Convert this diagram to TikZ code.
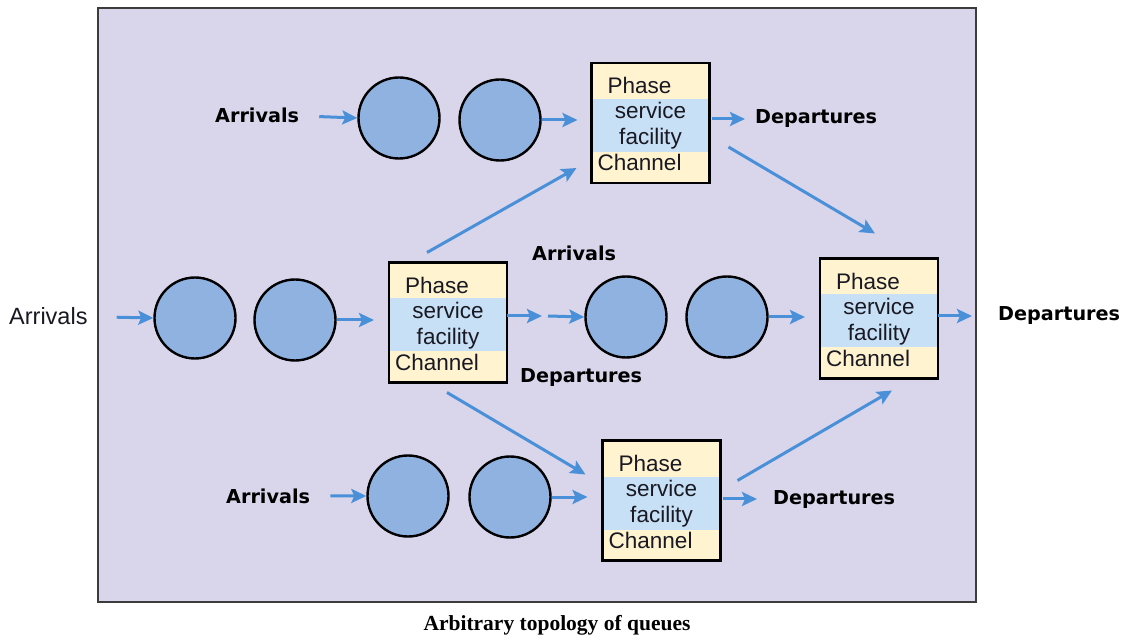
\documentclass[tikz,border=0pt]{standalone}
\usepackage{fontspec}
\setmainfont{Liberation Sans}
\newfontfamily\lblfont{DejaVu Sans}
\newfontfamily\capfont{Liberation Serif}
\usetikzlibrary{arrows.meta,calc}
\definecolor{bgc}{RGB}{217,214,235}
\definecolor{bordc}{RGB}{60,60,60}
\definecolor{cblue}{RGB}{143,178,224}
\definecolor{ablue}{RGB}{74,144,217}
\definecolor{byellow}{RGB}{255,243,208}
\definecolor{bblue}{RGB}{200,224,245}
\definecolor{txtc}{RGB}{25,25,35}
\newcommand\qbox[2]{%
  \node[qb] (#1) at (#2) {};
  \node[qt, anchor=base west] (#1-1) at ($(#1.north west)+(16,31)$) {Phase};
  \node[qt, anchor=base] (#1-2) at ($(#1.north)+(0,56)$) {service};
  \node[qt, anchor=base] (#1-3) at ($(#1.north)+(0,82)$) {facility};
  \node[qt, anchor=base west] (#1-4) at ($(#1.north west)+(6,108)$) {Channel};
}
\begin{document}
\begin{tikzpicture}[x=1pt,y=-1pt,
  qb/.style={draw=black, line width=2.8pt, fill=byellow, minimum width=118pt,
    minimum height=120pt, inner sep=0pt, outer sep=0pt,
    path picture={\fill[bblue] ([yshift=-36pt]path picture bounding box.north west)
      rectangle ([yshift=-89pt]path picture bounding box.north east);}},
  qt/.style={font=\fontsize{22.5}{24}\selectfont, text=txtc, inner sep=0pt},
  circ/.style={circle, draw=black, line width=2.4pt, fill=cblue, minimum size=81pt, inner sep=0pt},
  lbl/.style={font=\lblfont\bfseries\fontsize{19.2}{22}\selectfont, inner sep=0pt, anchor=base west},
  lblr/.style={font=\fontsize{23.5}{24}\selectfont, text=txtc, inner sep=0pt, anchor=base west},
  arr/.style={draw=ablue, line width=3pt, -{Stealth[length=15pt,width=14pt,inset=3pt]}}
]
\useasboundingbox (0,0) rectangle (1125,636);
\fill[white] (0,0) rectangle (1125,636);
\draw[fill=bgc, draw=bordc, line width=2pt] (98,8) rectangle (976,602);

% top row
\node[lbl] (aT) at (215,123) {Arrivals};
\node[circ] (c1T) at (399,118) {};
\node[circ] (c2T) at (500,120) {};
\qbox{tb}{650.5,123}
\node[lbl] (dT) at (755,124) {Departures};

% middle row
\node[lblr] (aM) at (9,325) {Arrivals};
\node[circ] (c1M) at (195,318) {};
\node[circ] (c2M) at (295,320) {};
\qbox{mb}{448,322.5}
\node[lbl] (aMid) at (532,261) {Arrivals};
\node[lbl] (dMid) at (520,382) {Departures};
\coordinate (mid) at (545,316);
\node[circ] (c3M) at (626,317) {};
\node[circ] (c4M) at (727,317) {};
\qbox{rb}{879,318.5}
\node[lbl] (dR) at (998,321) {Departures};

% bottom row
\node[lbl] (aB) at (226,503) {Arrivals};
\node[circ] (c1B) at (408,496) {};
\node[circ] (c2B) at (510,497) {};
\qbox{bb}{661.5,500.5}
\node[lbl] (dB) at (773,504) {Departures};

% caption
\node[font=\capfont\bfseries\fontsize{21.5}{24}\selectfont, inner sep=0pt, anchor=base] (cap) at (557,630) {Arbitrary topology of queues};

% arrows top
\draw[arr, shorten <=20pt] (aT.east) -- (c1T.west);
\draw[arr, shorten >=14pt] (c2T.east) -- (c2T.east -| tb.west);
\draw[arr, shorten <=2pt, shorten >=10pt] (tb.east |- dT.west) -- (dT.west);
% arrows middle
\draw[arr, shorten <=29pt] (aM.east) -- (c1M.west);
\draw[arr, shorten >=15pt] (c2M.east) -- (c2M.east -| mb.west);
\draw[arr] (mb.east |- mid) -- ([xshift=-3pt]mid);
\draw[arr] ([xshift=3pt]mid) -- (c3M.west);
\draw[arr, shorten >=15pt] (c4M.east) -- (c4M.east -| rb.west);
\draw[arr, shorten >=26pt] (rb.east |- dR.west) -- (dR.west);
% arrows bottom
\draw[arr, shorten <=20pt] (aB.east) -- (c1B.west);
\draw[arr, shorten >=15pt] (c2B.east) -- (c2B.east -| bb.west);
\draw[arr, shorten <=2pt, shorten >=16pt] (bb.east |- dB.west) -- (dB.west);
% diagonals
\draw[arr] ($(mb.north)+(-21,-10)$) -- ($(tb.south west)+(-15,-15)$);
\draw[arr] ($(mb.south)+(-1,10)$) -- ($(bb.north west)+(-17,34)$);
\draw[arr] ($(tb.east)+(19,24)$) -- ($(rb.north)+(-4,-25)$);
\draw[arr] ($(bb.east)+(17,-20)$) -- ($(rb.south)+(13,12)$);
\end{tikzpicture}
\end{document}
